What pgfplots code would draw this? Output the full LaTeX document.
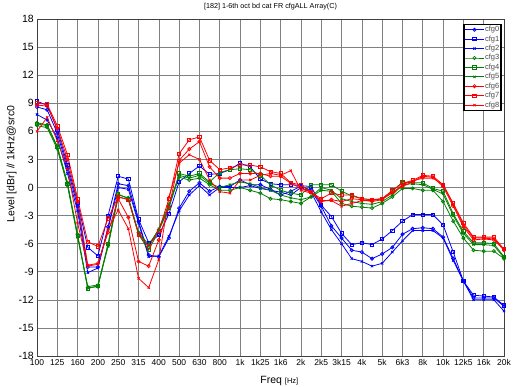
\documentclass[border=0pt]{standalone}
\usepackage{pgfplots}
\pgfplotsset{compat=1.18}
\usepackage{pgfplotstable}
\usepackage{fontspec}
\setmainfont{Liberation Sans}
\definecolor{cblue}{RGB}{0,0,255}
\definecolor{cgreen}{RGB}{0,128,0}
\definecolor{cred}{RGB}{255,0,0}
\definecolor{cgrid}{RGB}{128,128,128}

\pgfplotstableread{
x b0 b1 b2
0 8.6 9.2 7.8
0.5 8.3 8.8 7.2
1 5.8 6.2 5.3
1.5 2.0 2.4 1.5
2 -2.0 -1.6 -2.5
2.5 -8.5 -6.4 -9.1
3 -8.5 -7.3 -8.6
3.5 -4.2 -3.0 -4.4
4 0.4 1.2 0.0
4.5 0.2 0.9 -0.2
5 -3.6 -3.4 -3.8
5.5 -7.2 -5.9 -7.4
6 -7.4 -5.1 -7.3
6.5 -5.4 -2.8 -5.2
7 -2.2 0.6 -2.5
7.5 -0.4 1.5 -0.8
8 0.5 2.3 0.2
8.5 -0.4 1.4 -0.8
9 0.1 1.5 0.0
9.5 0.1 1.9 0.0
10 0.8 2.6 0.0
10.5 0.3 2.2 0.2
11 0.3 0.9 -0.1
11.5 -0.2 0.4 -0.3
12 -0.8 0.3 -0.5
12.5 -0.4 0.3 -0.8
13 0.15 0.2 0.0
13.5 -0.3 0.1 -0.5
14 -2.0 -1.9 -2.6
14.5 -4.1 -3.1 -4.5
15 -5.4 -4.9 -6.0
15.5 -6.7 -6.1 -7.6
16 -6.9 -5.9 -7.9
16.5 -7.6 -6.1 -8.4
17 -7.1 -5.5 -8.1
17.5 -6.4 -4.6 -6.9
18 -5.0 -3.6 -5.7
18.5 -4.4 -2.9 -4.6
19 -4.3 -2.9 -4.6
19.5 -4.4 -2.9 -4.6
20 -5.3 -4.0 -5.4
20.5 -7.6 -6.9 -7.8
21 -10.0 -10.0 -10.0
21.5 -11.8 -11.5 -12.0
22 -11.8 -11.6 -12.0
22.5 -11.8 -11.7 -12.0
23 -12.7 -12.6 -13.2
}\blues

\pgfplotstableread{
x g3 g4 g5
0 6.9 6.8 6.6
0.5 6.7 6.6 6.4
1 4.4 4.3 4.1
1.5 0.5 0.4 0.2
2 -5.0 -5.2 -5.3
2.5 -10.7 -10.8 -10.6
3 -10.6 -10.5 -10.4
3.5 -6.2 -6.0 -6.3
4 -0.8 -0.7 -1.0
4.5 -1.1 -1.2 -1.3
5 -4.8 -5.0 -4.9
5.5 -6.1 -6.7 -6.3
6 -4.5 -4.6 -4.4
6.5 -2.0 -2.2 -1.8
7 1.1 1.5 1.3
7.5 0.8 1.2 1.0
8 1.0 1.5 1.3
8.5 0.3 0.6 0.45
9 -0.3 1.6 0.0
9.5 -0.3 1.9 0.3
10 0.0 2.0 0.6
10.5 -0.3 1.9 0.4
11 -0.6 1.3 0.0
11.5 -1.2 0.3 -0.3
12 -1.3 -0.3 -0.8
12.5 -1.5 -0.6 -1.1
13 -1.7 -0.8 -1.3
13.5 -1.0 0.3 -1.0
14 -0.3 0.3 0.0
14.5 -0.4 0.3 -0.3
15 -1.7 -0.4 -1.2
15.5 -2.0 -0.9 -1.5
16 -2.1 -1.2 -1.7
16.5 -2.2 -1.3 -1.8
17 -1.7 -1.2 -1.5
17.5 -1.0 -0.4 -0.8
18 -0.1 0.6 0.3
18.5 -0.1 0.5 0.4
19 -0.3 0.5 0.3
19.5 -0.3 -0.1 -0.2
20 -1.5 -0.4 -0.7
20.5 -3.6 -2.8 -3.0
21 -5.4 -4.7 -4.9
21.5 -6.7 -5.9 -6.1
22 -6.8 -5.9 -6.1
22.5 -6.8 -6.0 -6.2
23 -7.6 -7.4 -7.5
}\greens

\pgfplotstableread{
x r6 r7 r8
0 8.8 9.0 6.0
0.5 8.7 8.9 7.5
1 6.3 6.6 5.0
1.5 3.0 3.5 2.0
2 -1.5 -1.2 -3.8
2.5 -8.3 -5.8 -8.4
3 -8.1 -6.3 -8.2
3.5 -4.8 -3.3 -4.5
4 -1.2 -1.0 -2.4
4.5 -3.2 -1.3 -4.4
5 -7.9 -5.0 -9.7
5.5 -8.4 -6.3 -10.7
6 -5.6 -4.6 -7.7
6.5 -2.1 -1.2 -1.0
7 2.9 3.6 2.6
7.5 4.1 5.1 3.5
8 4.9 5.4 3.0
8.5 2.2 2.9 0.8
9 1.0 1.9 -0.45
9.5 1.0 2.1 -0.6
10 1.5 2.4 0.8
10.5 1.5 2.4 0.8
11 1.5 2.2 1.3
11.5 1.2 1.7 1.5
12 1.2 1.5 1.3
12.5 0.45 0.5 1.8
13 -0.1 0.27 -0.3
13.5 -0.5 -0.5 -0.6
14 -1.5 -1.2 -1.4
14.5 -1.3 -0.6 -1.4
15 -1.5 -0.8 -2.0
15.5 -1.2 -0.8 -1.7
16 -1.3 -1.2 -1.4
16.5 -1.5 -1.3 -1.4
17 -1.3 -1.2 -1.2
17.5 -0.5 -0.3 -0.6
18 0.1 0.45 0.3
18.5 0.6 0.75 0.7
19 1.2 1.3 1.0
19.5 1.1 1.2 1.0
20 0.1 0.3 0.3
20.5 -2.0 -1.7 -1.8
21 -4.2 -3.8 -4.0
21.5 -5.6 -5.3 -5.4
22 -5.5 -5.3 -5.4
22.5 -5.6 -5.3 -5.5
23 -6.7 -6.6 -6.6
}\reds

\begin{document}
\begin{tikzpicture}
\begin{axis}[
  at={(0,0)}, anchor=south west,
  scale only axis, width=467pt, height=337pt,
  xmin=0, xmax=23, ymin=-18, ymax=18,
  xtick={0,...,23},
  xticklabels={100,125,160,200,250,315,400,500,630,800,1k,1k25,1k6,2k,2k5,3k15,4k,5k,6k3,8k,10k,12k5,16k,20k},
  ytick={-18,-15,...,18},
  grid=major,
  major grid style={draw=cgrid, line width=0.6pt},
  axis line style={black!75, line width=0.7pt},
  major tick length=0pt,
  /pgf/number format/assume math mode=true,
  yticklabel style={font=\fontsize{10.5}{12}\selectfont, inner sep=1pt, xshift=-2pt},
  xticklabel style={font=\fontsize{8.5}{10}\selectfont, inner sep=1pt, yshift=-2pt},
  title={[182] 1-6th oct bd cat FR cfgALL Array(C)},
  title style={font=\fontsize{7.2}{8}\selectfont, at={(axis description cs:0.5,1)}, anchor=south, inner sep=1pt, yshift=1.5pt},
  xlabel={Freq {\fontsize{7.5}{8}\selectfont [Hz]}},
  xlabel style={font=\fontsize{10.5}{12}\selectfont, at={(axis description cs:0.519,0)}, anchor=center, yshift=-25pt},
  ylabel={Level [dBr] // 1kHz@src0},
  ylabel style={font=\fontsize{10.5}{12}\selectfont, at={(axis description cs:-0.0542,0.57)}, anchor=center},
  legend style={at={(axis description cs:1,1)}, anchor=north east, xshift=-2.5pt, yshift=-5pt,
    draw=black, line width=1.3pt, font=\fontsize{7.5}{8}\selectfont, inner sep=0.8pt, row sep=0.9pt,
    text=black!70, nodes={inner sep=0.8pt}, cells={anchor=west}},
  legend cell align=left,
  legend image code/.code={\draw[mark repeat=2,mark phase=2] plot coordinates {(0cm,0cm) (0.33cm,0cm) (0.66cm,0cm)};},
  every axis plot/.append style={line width=0.8pt, mark size=1.6pt, mark options={solid}},
]
\addplot[cblue, mark=o] table[x=x,y=b0] {\blues};
\addplot[cblue, mark=square] table[x=x,y=b1] {\blues};
\addplot[cblue, mark=x] table[x=x,y=b2] {\blues};
\addplot[cgreen, mark=o] table[x=x,y=g3] {\greens};
\addplot[cgreen, mark=square] table[x=x,y=g4] {\greens};
\addplot[cgreen, mark=x] table[x=x,y=g5] {\greens};
\addplot[cred, mark=o] table[x=x,y=r6] {\reds};
\addplot[cred, mark=square] table[x=x,y=r7] {\reds};
\addplot[cred, mark=x] table[x=x,y=r8] {\reds};
\legend{cfg0,cfg1,cfg2,cfg3,cfg4,cfg5,cfg6,cfg7,cfg8}
\end{axis}
\pgfresetboundingbox
\path[use as bounding box] (-37pt,-31pt) rectangle (476pt,356pt);
\end{tikzpicture}
\end{document}
